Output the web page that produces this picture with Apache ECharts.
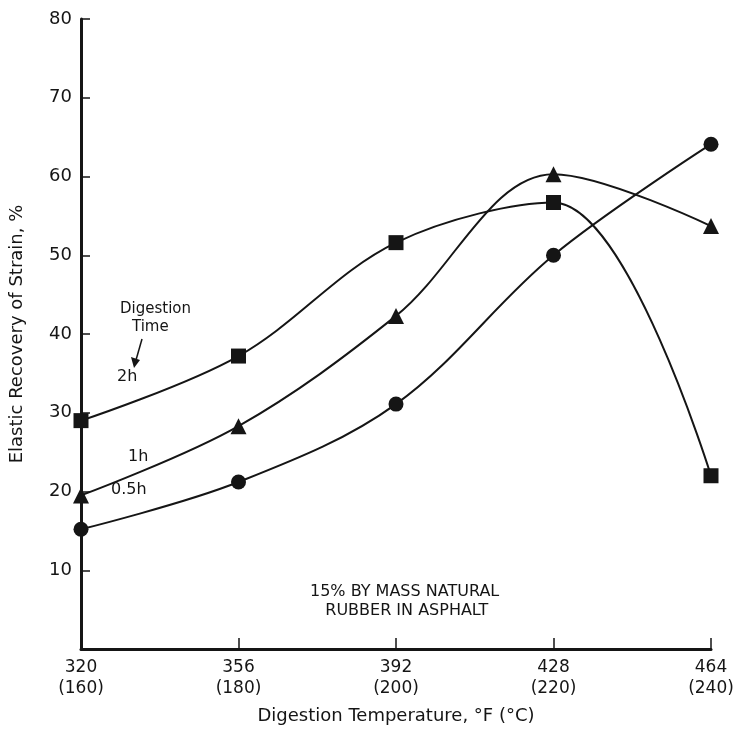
<!DOCTYPE html>
<html>
<head>
<meta charset="utf-8">
<script src="https://cdn.jsdelivr.net/npm/echarts@6/dist/echarts.min.js"></script>
<style>
  html, body { margin: 0; padding: 0; background: #fff; }
  #chart { width: 740px; height: 730px; }
</style>
</head>
<body>
<div id="chart"></div>
<script>
// digestion temperature, °F (°C)
const temps = ['320\n(160)', '356\n(180)', '392\n(200)', '428\n(220)', '464\n(240)'];
// elastic recovery of strain, %
const time2h = [29.0, 37.2, 51.6, 56.7, 22.0];
const time1h = [19.5, 28.3, 42.3, 60.3, 53.7];
const time05h = [15.2, 21.2, 31.1, 50.0, 64.1];

const font = 'DejaVu Sans';
const ink = '#151515';

const chart = echarts.init(document.getElementById('chart'));

const lineSeries = (name, data, symbol, size) => ({
  name,
  type: 'line',
  data,
  smooth: 0.35,
  symbol,
  symbolSize: size,
  showAllSymbol: true,
  itemStyle: { color: ink },
  lineStyle: { color: ink, width: 2 },
  emphasis: { disabled: true },
  z: 3
});

chart.setOption({
  animation: false,
  backgroundColor: '#fff',
  grid: { left: 77, right: 29, top: 19, bottom: 80 },
  xAxis: {
    type: 'category',
    data: temps,
    boundaryGap: false,
    name: 'Digestion Temperature, °F (°C)',
    nameLocation: 'middle',
    nameGap: 58,
    nameTextStyle: { fontFamily: font, fontSize: 18, color: ink },
    axisLine: { lineStyle: { color: ink, width: 3 } },
    axisTick: { inside: true, length: 11, alignWithLabel: true, lineStyle: { color: ink, width: 1.5 } },
    axisLabel: { fontFamily: font, fontSize: 17, lineHeight: 21, color: ink, margin: 8, interval: 0 },
    splitLine: { show: false }
  },
  yAxis: {
    type: 'value',
    min: 0,
    max: 80,
    interval: 10,
    name: 'Elastic Recovery of Strain, %',
    nameLocation: 'middle',
    nameGap: 55,
    nameTextStyle: { fontFamily: font, fontSize: 18, color: ink },
    axisLine: { show: true, lineStyle: { color: ink, width: 3 } },
    axisTick: { show: true, inside: true, length: 9, lineStyle: { color: ink, width: 1.5 } },
    axisLabel: {
      fontFamily: font, fontSize: 18, color: ink, margin: 9,
      formatter: v => (v === 0 ? '' : String(v))
    },
    splitLine: { show: false }
  },
  series: [
    lineSeries('2h', time2h, 'rect', 15),
    lineSeries('1h', time1h, 'triangle', 16),
    lineSeries('0.5h', time05h, 'circle', 15)
  ],
  graphic: [
    {
      type: 'text', left: 120, top: 302,
      style: { text: 'Digestion', fontFamily: font, fontSize: 15, fill: ink }
    },
    {
      type: 'text', left: 132, top: 320,
      style: { text: 'Time', fontFamily: font, fontSize: 15, fill: ink }
    },
    {
      type: 'line',
      shape: { x1: 142, y1: 339, x2: 136, y2: 360 },
      style: { stroke: ink, lineWidth: 1.5 }
    },
    {
      type: 'polygon',
      shape: { points: [[131, 357], [140, 360], [134, 368]] },
      style: { fill: ink }
    },
    {
      type: 'text', left: 117, top: 369,
      style: { text: '2h', fontFamily: font, fontSize: 16, fill: ink }
    },
    {
      type: 'text', left: 128, top: 449,
      style: { text: '1h', fontFamily: font, fontSize: 16, fill: ink }
    },
    {
      type: 'text', left: 111, top: 482,
      style: { text: '0.5h', fontFamily: font, fontSize: 16, fill: ink }
    },
    {
      type: 'text', left: 310, top: 582,
      style: {
        text: '15% BY MASS NATURAL\n   RUBBER IN ASPHALT',
        fontFamily: font, fontSize: 16, lineHeight: 19, fill: ink
      }
    }
  ]
});
</script>
</body>
</html>
